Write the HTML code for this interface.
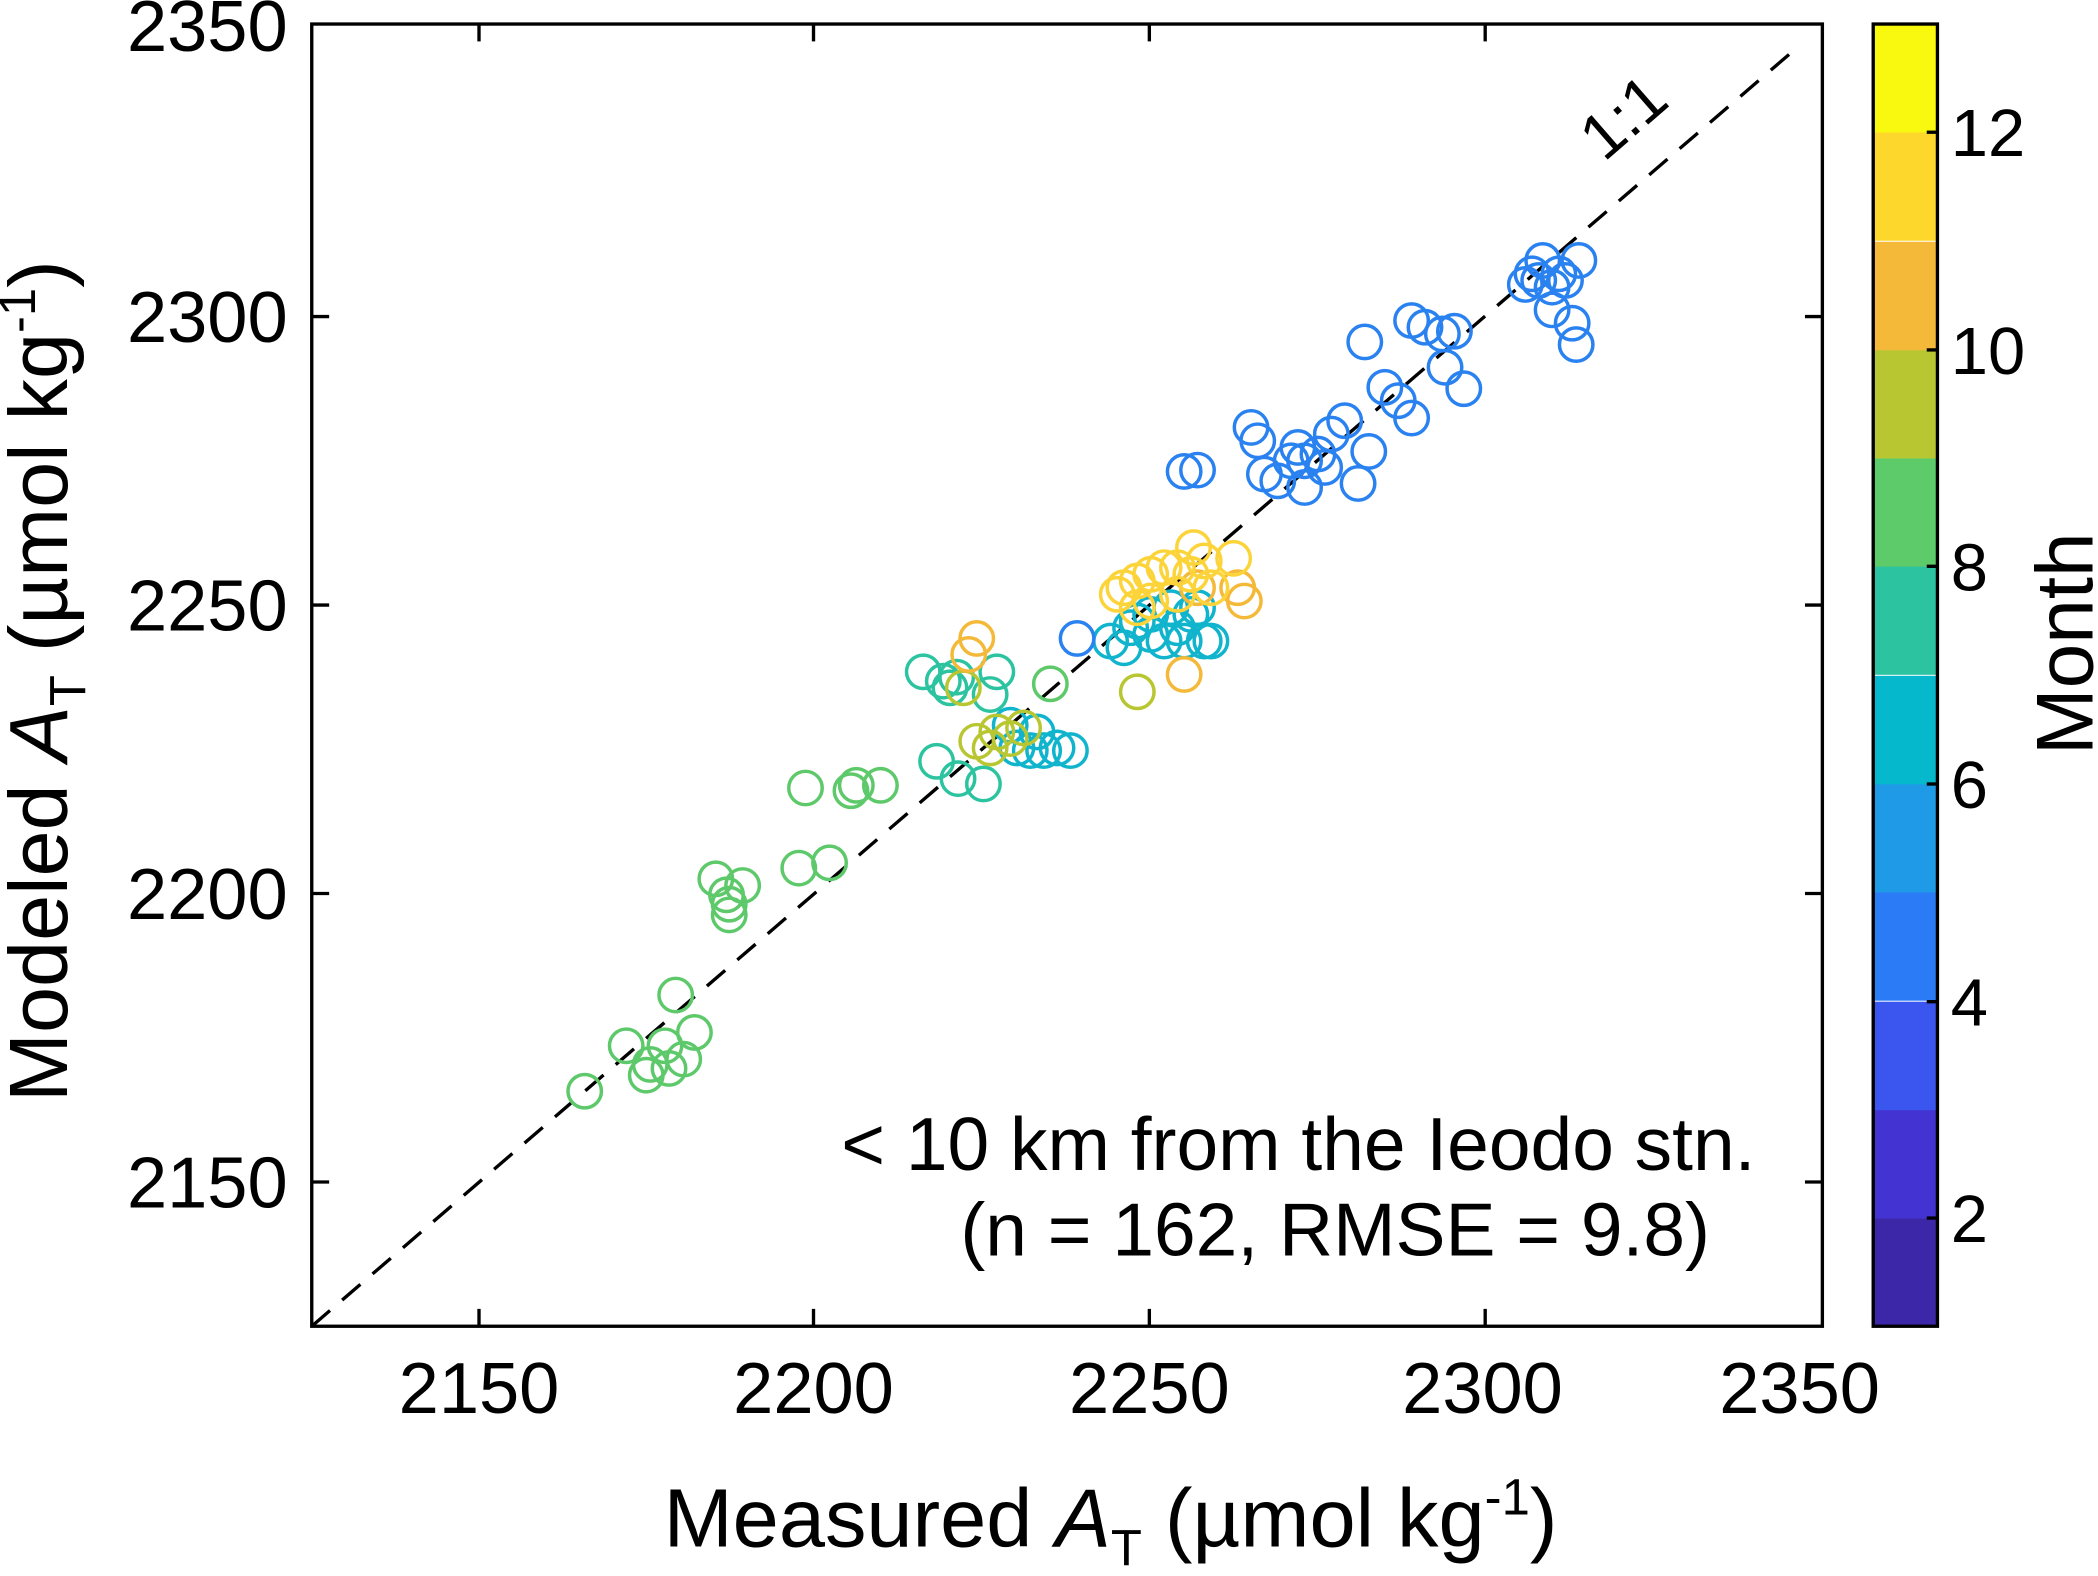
<!DOCTYPE html>
<html><head><meta charset="utf-8"><style>html,body{margin:0;padding:0;background:#fff}svg{display:block}</style></head><body>
<svg width="2098" height="1576" viewBox="0 0 1568 1180" preserveAspectRatio="none" xmlns="http://www.w3.org/2000/svg" font-family="Liberation Sans, sans-serif">
<rect width="1568" height="1180" fill="#fff"/>
<line x1="233" y1="993" x2="1338" y2="40" stroke="#000" stroke-width="2.5" stroke-dasharray="18,12"/>
<text x="1224" y="100" font-size="48" transform="rotate(-41 1224 100)" text-anchor="middle">1:1</text>
<g fill="none" stroke-width="2.6">
<g stroke="#5ec96a">
<circle cx="437" cy="817" r="12.5"/><circle cx="468" cy="783" r="12.5"/><circle cx="483" cy="805" r="12.5"/><circle cx="486" cy="797" r="12.5"/><circle cx="497" cy="783" r="12.5"/><circle cx="505" cy="745" r="12.5"/><circle cx="511" cy="793" r="12.5"/><circle cx="519" cy="773" r="12.5"/><circle cx="500" cy="800" r="12.5"/>
<circle cx="535" cy="658" r="12.5"/><circle cx="545" cy="677" r="12.5"/><circle cx="545" cy="685" r="12.5"/><circle cx="555" cy="663" r="12.5"/><circle cx="543" cy="670" r="12.5"/>
<circle cx="597" cy="650" r="12.5"/><circle cx="602" cy="590" r="12.5"/><circle cx="620" cy="646" r="12.5"/><circle cx="636" cy="592" r="12.5"/><circle cx="640" cy="588" r="12.5"/><circle cx="658" cy="588" r="12.5"/><circle cx="785" cy="512" r="12.5"/>
</g>
<g stroke="#2cc4a0">
<circle cx="690" cy="503" r="12.5"/><circle cx="700" cy="570" r="12.5"/><circle cx="715" cy="507" r="12.5"/><circle cx="716" cy="583" r="12.5"/><circle cx="735" cy="587" r="12.5"/><circle cx="745" cy="503" r="12.5"/><circle cx="740" cy="520" r="12.5"/><circle cx="710" cy="515" r="12.5"/><circle cx="705" cy="510" r="12.5"/>
</g>
<g stroke="#10b4cc">
<circle cx="760" cy="560" r="12.5"/><circle cx="770" cy="562" r="12.5"/><circle cx="780" cy="562" r="12.5"/><circle cx="790" cy="560" r="12.5"/><circle cx="800" cy="562" r="12.5"/><circle cx="755" cy="543" r="12.5"/><circle cx="775" cy="548" r="12.5"/>
<circle cx="830" cy="480" r="12.5"/><circle cx="840" cy="485" r="12.5"/><circle cx="850" cy="465" r="12.5"/><circle cx="860" cy="475" r="12.5"/><circle cx="870" cy="480" r="12.5"/><circle cx="880" cy="470" r="12.5"/><circle cx="890" cy="460" r="12.5"/><circle cx="900" cy="480" r="12.5"/><circle cx="905" cy="480" r="12.5"/><circle cx="875" cy="455" r="12.5"/><circle cx="885" cy="480" r="12.5"/><circle cx="895" cy="455" r="12.5"/><circle cx="860" cy="460" r="12.5"/><circle cx="845" cy="470" r="12.5"/>
</g>
<g stroke="#b8c632">
<circle cx="730" cy="555" r="12.5"/><circle cx="745" cy="548" r="12.5"/><circle cx="755" cy="553" r="12.5"/><circle cx="765" cy="545" r="12.5"/><circle cx="740" cy="560" r="12.5"/><circle cx="850" cy="518" r="12.5"/><circle cx="720" cy="515" r="12.5"/>
</g>
<g stroke="#f5b93a">
<circle cx="730" cy="478" r="12.5"/><circle cx="724" cy="490" r="12.5"/><circle cx="885" cy="505" r="12.5"/><circle cx="895" cy="440" r="12.5"/><circle cx="930" cy="450" r="12.5"/><circle cx="925" cy="440" r="12.5"/>
</g>
<g stroke="#fcd43a">
<circle cx="840" cy="440" r="12.5"/><circle cx="850" cy="435" r="12.5"/><circle cx="860" cy="430" r="12.5"/><circle cx="870" cy="425" r="12.5"/><circle cx="880" cy="425" r="12.5"/><circle cx="890" cy="430" r="12.5"/><circle cx="900" cy="420" r="12.5"/><circle cx="892" cy="410" r="12.5"/><circle cx="922" cy="418" r="12.5"/><circle cx="860" cy="450" r="12.5"/><circle cx="880" cy="445" r="12.5"/><circle cx="905" cy="440" r="12.5"/><circle cx="850" cy="455" r="12.5"/><circle cx="835" cy="445" r="12.5"/>
</g>
<g stroke="#2a82f0">
<circle cx="805" cy="478" r="12.5"/><circle cx="885" cy="353" r="12.5"/><circle cx="895" cy="352" r="12.5"/><circle cx="935" cy="320" r="12.5"/><circle cx="940" cy="330" r="12.5"/><circle cx="945" cy="355" r="12.5"/><circle cx="955" cy="360" r="12.5"/><circle cx="965" cy="345" r="12.5"/><circle cx="975" cy="345" r="12.5"/><circle cx="985" cy="340" r="12.5"/><circle cx="975" cy="365" r="12.5"/><circle cx="990" cy="350" r="12.5"/><circle cx="970" cy="335" r="12.5"/><circle cx="995" cy="325" r="12.5"/><circle cx="1005" cy="315" r="12.5"/><circle cx="1023" cy="338" r="12.5"/><circle cx="1015" cy="362" r="12.5"/><circle cx="1020" cy="256" r="12.5"/><circle cx="1035" cy="290" r="12.5"/><circle cx="1045" cy="300" r="12.5"/><circle cx="1055" cy="313" r="12.5"/><circle cx="1055" cy="240" r="12.5"/><circle cx="1065" cy="245" r="12.5"/><circle cx="1078" cy="250" r="12.5"/><circle cx="1087" cy="248" r="12.5"/><circle cx="1080" cy="275" r="12.5"/><circle cx="1094" cy="291" r="12.5"/>
<circle cx="1140" cy="213" r="12.5"/><circle cx="1150" cy="210" r="12.5"/><circle cx="1153" cy="195" r="12.5"/><circle cx="1160" cy="215" r="12.5"/><circle cx="1165" cy="205" r="12.5"/><circle cx="1170" cy="210" r="12.5"/><circle cx="1180" cy="195" r="12.5"/><circle cx="1175" cy="242" r="12.5"/><circle cx="1178" cy="258" r="12.5"/><circle cx="1145" cy="205" r="12.5"/><circle cx="1160" cy="232" r="12.5"/>
</g>
</g>
<rect x="233" y="18" width="1129" height="975" fill="none" stroke="#000" stroke-width="2.5"/>
<g stroke="#000" stroke-width="2.5">
<line x1="358" y1="993" x2="358" y2="980"/><line x1="608" y1="993" x2="608" y2="980"/><line x1="859" y1="993" x2="859" y2="980"/><line x1="1110" y1="993" x2="1110" y2="980"/>
<line x1="358" y1="18" x2="358" y2="31"/><line x1="608" y1="18" x2="608" y2="31"/><line x1="859" y1="18" x2="859" y2="31"/><line x1="1110" y1="18" x2="1110" y2="31"/>
<line x1="233" y1="885" x2="246" y2="885"/><line x1="233" y1="669" x2="246" y2="669"/><line x1="233" y1="453" x2="246" y2="453"/><line x1="233" y1="237" x2="246" y2="237"/>
<line x1="1362" y1="885" x2="1349" y2="885"/><line x1="1362" y1="669" x2="1349" y2="669"/><line x1="1362" y1="453" x2="1349" y2="453"/><line x1="1362" y1="237" x2="1349" y2="237"/>
</g>
<g font-size="54" text-anchor="middle">
<text x="358" y="1058">2150</text><text x="608" y="1058">2200</text><text x="859" y="1058">2250</text><text x="1108" y="1058">2300</text><text x="1345" y="1058">2350</text>
</g>
<g font-size="54" text-anchor="end">
<text x="215" y="904">2150</text><text x="215" y="688">2200</text><text x="215" y="472">2250</text><text x="215" y="256">2300</text><text x="215" y="38">2350</text>
</g>
<text x="830" y="1158" font-size="62" text-anchor="middle">Measured <tspan font-style="italic">A</tspan><tspan font-size="38" dy="14">T</tspan><tspan dy="-14"> (µmol kg</tspan><tspan font-size="38" dy="-24">-1</tspan><tspan dy="24">)</tspan></text>
<text transform="translate(50 510) rotate(-90)" font-size="62" text-anchor="middle">Modeled <tspan font-style="italic">A</tspan><tspan font-size="38" dy="14">T</tspan><tspan dy="-14"> (µmol kg</tspan><tspan font-size="38" dy="-24">-1</tspan><tspan dy="24">)</tspan></text>
<text x="1312" y="876" font-size="56" text-anchor="end">&lt; 10 km from the Ieodo stn.</text>
<text x="1278" y="940" font-size="56" text-anchor="end">(n = 162, RMSE = 9.8)</text>
<g>
<rect x="1400" y="912" width="48" height="81.25" fill="#3d27a9"/>
<rect x="1400" y="831" width="48" height="81.25" fill="#4233d2"/>
<rect x="1400" y="750" width="48" height="81.25" fill="#3a56ee"/>
<rect x="1400" y="668" width="48" height="81.25" fill="#2b7bf6"/>
<rect x="1400" y="587" width="48" height="81.25" fill="#1f9ae6"/>
<rect x="1400" y="506" width="48" height="81.25" fill="#06b8cc"/>
<rect x="1400" y="424" width="48" height="81.25" fill="#2cc4a0"/>
<rect x="1400" y="343" width="48" height="81.25" fill="#5ecb6a"/>
<rect x="1400" y="262" width="48" height="81.25" fill="#b8c632"/>
<rect x="1400" y="181" width="48" height="81.25" fill="#f5b93a"/>
<rect x="1400" y="99" width="48" height="81.25" fill="#fdd72c"/>
<rect x="1400" y="18" width="48" height="81.25" fill="#f9f90f"/>
<rect x="1400" y="18" width="48" height="975" fill="none" stroke="#000" stroke-width="2.5"/>
<g stroke="#000" stroke-width="2.5">
<line x1="1448" y1="912" x2="1440" y2="912"/><line x1="1448" y1="750" x2="1440" y2="750"/><line x1="1448" y1="587" x2="1440" y2="587"/><line x1="1448" y1="424" x2="1440" y2="424"/><line x1="1448" y1="262" x2="1440" y2="262"/><line x1="1448" y1="99" x2="1440" y2="99"/>
</g>
<g font-size="50">
<text x="1458" y="930">2</text><text x="1458" y="768">4</text><text x="1458" y="605">6</text><text x="1458" y="442">8</text><text x="1458" y="280">10</text><text x="1458" y="117">12</text>
</g>
<text transform="translate(1564 482) rotate(-90)" font-size="60" text-anchor="middle">Month</text>
</g>
</svg>
</body></html>
